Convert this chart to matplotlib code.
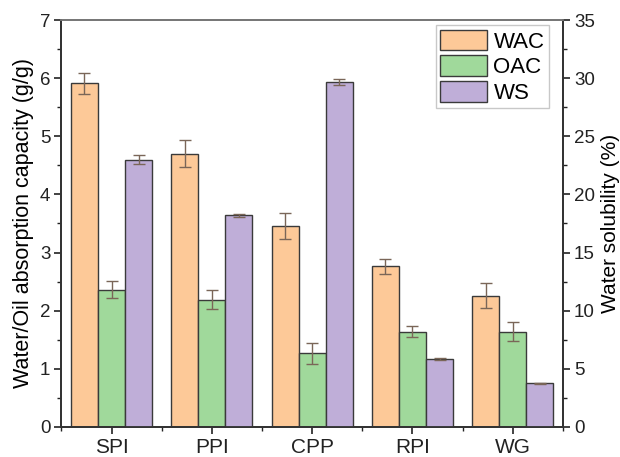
import numpy as np
import matplotlib.pyplot as plt
from matplotlib.ticker import MultipleLocator

plt.rcParams['font.family'] = ['Liberation Sans', 'DejaVu Sans']

samples = ['SPI', 'PPI', 'CPP', 'RPI', 'WG']
wac = [5.91, 4.70, 3.46, 2.76, 2.26]
wac_err = [0.18, 0.23, 0.22, 0.13, 0.22]
oac = [2.36, 2.19, 1.27, 1.64, 1.64]
oac_err = [0.15, 0.16, 0.18, 0.10, 0.16]
ws = [23.0, 18.2, 29.7, 5.83, 3.76]
ws_err = [0.35, 0.10, 0.25, 0.08, 0.05]

c_wac = '#FDC998'
c_oac = '#A0D99B'
c_ws = '#BFAED8'
edge = '#3a3a3a'
ecol = '#7a6658'

fig = plt.figure(figsize=(6.2, 4.57), dpi=100)
ax = fig.add_axes([0.099, 0.066, 0.809, 0.890])
ax2 = ax.twinx()

x = np.arange(len(samples))
w = 0.27
ekw = dict(elinewidth=1.0, capthick=1.0, ecolor=ecol)

b1 = ax.bar(x - w, wac, w, yerr=wac_err, capsize=4, color=c_wac, edgecolor=edge,
            linewidth=1.0, error_kw=ekw, label='WAC')
b2 = ax.bar(x, oac, w, yerr=oac_err, capsize=4, color=c_oac, edgecolor=edge,
            linewidth=1.0, error_kw=ekw, label='OAC')
b3 = ax2.bar(x + w, ws, w, yerr=ws_err, capsize=4, color=c_ws, edgecolor=edge,
             linewidth=1.0, error_kw=ekw, label='WS')

ax.set_xlim(-0.5, 4.5)
ax.set_ylim(0, 7)
ax2.set_ylim(0, 35)
ax.set_xticks(x)
ax.set_xticklabels(samples)
ax.xaxis.set_minor_locator(MultipleLocator(0.5))
ax.yaxis.set_major_locator(MultipleLocator(1))
ax.yaxis.set_minor_locator(MultipleLocator(0.5))
ax2.yaxis.set_major_locator(MultipleLocator(5))
ax2.yaxis.set_minor_locator(MultipleLocator(2.5))

for a in (ax, ax2):
    a.tick_params(axis='both', which='major', direction='out', length=5, width=1.2,
                  labelsize=13.5, colors='#222222', pad=3)
    a.tick_params(axis='both', which='minor', direction='out', length=3, width=1.0,
                  colors='#222222')
    for s in a.spines.values():
        s.set_linewidth(1.3)
        s.set_color('#333333')
ax.tick_params(axis='x', which='major', labelsize=15)
ax.spines['top'].set_color('#777777')
ax2.spines['top'].set_color('#777777')

ax.set_ylabel('Water/Oil absorption capacity (g/g)', fontsize=15.5, labelpad=4)
ax2.set_ylabel('Water solubility (%)', fontsize=15, labelpad=4)

leg = ax2.legend([b1, b2, b3], ['WAC', 'OAC', 'WS'], loc='upper right',
                 bbox_to_anchor=(0.972, 0.987), fontsize=16, fancybox=False,
                 handlelength=2.1, handleheight=1.05, handletextpad=0.3,
                 labelspacing=0.12, borderpad=0.2, borderaxespad=0.0)
leg.get_frame().set_edgecolor('#bbbbbb')
leg.get_frame().set_linewidth(1.0)

fig.savefig('out.png', dpi=100)
